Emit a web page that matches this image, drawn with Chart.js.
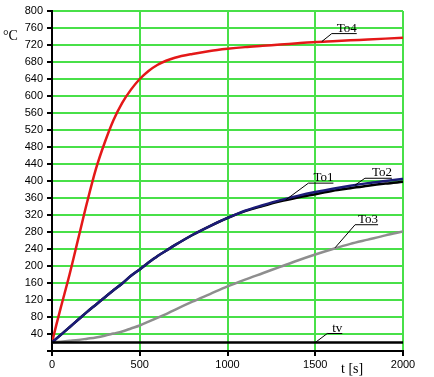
<!DOCTYPE html>
<html>
<head>
<meta charset="utf-8">
<script src="https://cdn.jsdelivr.net/npm/chart.js@4/dist/chart.umd.min.js"></script>
<style>
  html, body { margin: 0; padding: 0; background: #fff; }
  #wrap { width: 434px; height: 377px; }
</style>
</head>
<body>
<div id="wrap"><canvas id="heatChart" width="434" height="377"></canvas></div>
<script>
// time points in seconds
const times = [0, 25, 50, 100, 150, 200, 250, 300, 350, 400, 450, 500, 550, 600, 650, 700, 800, 900,
  1000, 1100, 1200, 1300, 1400, 1500, 1600, 1700, 1800, 1900, 2000];

// temperatures in °C
const to4 = [20, 62, 102, 180, 265, 350, 428, 490, 543, 584, 615, 640, 659, 673, 683, 690, 699, 706,
  711, 715, 718, 721, 724, 727, 729, 731, 733, 735, 737];
const to1 = [20, 29, 38, 56, 74, 92, 109, 126, 143, 159, 177, 192, 208, 223, 236, 249, 273, 294,
  313, 329, 341, 352, 361, 369, 377, 383, 389, 394, 398];
const to2 = [20, 29, 38, 56, 74, 92, 109, 126, 143, 159, 177, 192, 208, 223, 236, 249, 273, 294,
  313, 330, 343, 355, 365, 374, 382, 389, 395, 400, 405];
const to3 = [20, 21, 22, 24, 26, 29, 32, 36, 41, 46, 53, 60, 69, 78, 87, 97, 116, 134,
  152, 168, 183, 198, 213, 227, 240, 252, 262, 272, 281];
const tv = [20, 20, 20, 20, 20, 20, 20, 20, 20, 20, 20, 20, 20, 20, 20, 20, 20, 20,
  20, 20, 20, 20, 20, 20, 20, 20, 20, 20, 20];

// axis ticks
const xTicks = [0, 500, 1000, 1500, 2000];
const yStep = 40;

const toPoints = vals => vals.map((v, i) => ({ x: times[i], y: v }));

// curve labels: where the leader starts (data units), elbow offset and shelf length (px)
const curveLabels = [
  { text: 'To4', t: 1537, v: 728, dx: 10, dy: -8, len: 25 },
  { text: 'To1', t: 1330, v: 355, dx: 23, dy: -17, len: 25 },
  { text: 'To2', t: 1726, v: 390, dx: 10, dy: -7, len: 27 },
  { text: 'To3', t: 1613, v: 243, dx: 20, dy: -23, len: 23 },
  { text: 'tv', t: 1500, v: 20, dx: 12, dy: -9, len: 15 }
];

const labelPlugin = {
  id: 'curveLabels',
  afterDraw(chart) {
    const { ctx, scales } = chart;
    ctx.save();
    ctx.strokeStyle = '#000';
    ctx.fillStyle = '#000';
    ctx.lineWidth = 1;
    ctx.font = '13px "Liberation Serif", "Times New Roman", serif';
    ctx.textAlign = 'right';
    ctx.textBaseline = 'alphabetic';
    curveLabels.forEach(l => {
      const px = scales.x.getPixelForValue(l.t);
      const py = scales.y.getPixelForValue(l.v);
      const ex = px + l.dx, ey = py + l.dy;
      ctx.beginPath();
      ctx.moveTo(px, py);
      ctx.lineTo(ex, ey);
      ctx.lineTo(ex + l.len, ey);
      ctx.stroke();
      ctx.fillText(l.text, ex + l.len, ey - 2);
    });
    // axis titles
    ctx.textAlign = 'left';
    ctx.font = '14px "Liberation Serif", "Times New Roman", serif';
    ctx.fillText('°C', 3, 40);
    ctx.fillText('t [s]', 341, 373);
    ctx.restore();
  }
};

const ctx = document.getElementById('heatChart').getContext('2d');
new Chart(ctx, {
  type: 'line',
  data: {
    datasets: [
      { label: 'tv', data: toPoints(tv), borderColor: '#000', borderWidth: 2.5, order: 1 },
      { label: 'To2', data: toPoints(to2), borderColor: '#1c1c78', borderWidth: 2.5, order: 2 },
      { label: 'To1', data: toPoints(to1), borderColor: '#000', borderWidth: 2.5, order: 3 },
      { label: 'To3', data: toPoints(to3), borderColor: '#8e8e8e', borderWidth: 2.5, order: 4 },
      { label: 'To4', data: toPoints(to4), borderColor: '#e41818', borderWidth: 2.5, order: 5 }
    ]
  },
  options: {
    responsive: false,
    animation: false,
    elements: {
      point: { radius: 0 },
      line: { cubicInterpolationMode: 'monotone', borderCapStyle: 'round' }
    },
    layout: { padding: { top: 11, right: 31, left: 0, bottom: 0 } },
    plugins: {
      legend: { display: false },
      tooltip: { enabled: false }
    },
    scales: {
      x: {
        type: 'linear',
        min: 0,
        max: 2000,
        afterBuildTicks: scale => { scale.ticks = xTicks.map(v => ({ value: v })); },
        afterFit: scale => { scale.height = 26; },
        ticks: {
          color: '#000',
          padding: 2,
          maxRotation: 0,
          font: { family: '"Liberation Sans", Arial, sans-serif', size: 11 },
          callback: v => String(v)
        },
        grid: { color: '#48e048', lineWidth: 2, tickColor: '#000', tickLength: 5, tickWidth: 2 },
        border: { color: '#000', width: 2 }
      },
      y: {
        min: 0,
        max: 800,
        afterFit: scale => { scale.width = 52; },
        ticks: {
          stepSize: yStep,
          color: '#000',
          padding: 4,
          font: { family: '"Liberation Sans", Arial, sans-serif', size: 11 },
          callback: v => (v === 0 ? '' : String(v))
        },
        grid: { color: '#48e048', lineWidth: 2, tickColor: '#000', tickLength: 5, tickWidth: 2 },
        border: { color: '#000', width: 2 }
      }
    }
  },
  plugins: [labelPlugin]
});
</script>
</body>
</html>
